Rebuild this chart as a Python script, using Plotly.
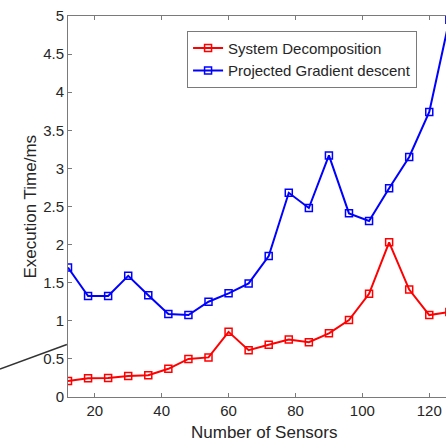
import plotly.graph_objects as go

sensors = [12, 18, 24, 30, 36, 42, 48, 54, 60, 66, 72, 78, 84, 90, 96, 102, 108, 114, 120, 126]
sys_decomp = [0.21, 0.245, 0.25, 0.275, 0.285, 0.37, 0.50, 0.52, 0.855, 0.615, 0.685, 0.755,
              0.72, 0.835, 1.01, 1.355, 2.03, 1.41, 1.075, 1.115]
proj_grad = [1.70, 1.325, 1.325, 1.59, 1.335, 1.09, 1.075, 1.25, 1.36, 1.49, 1.85, 2.68,
             2.48, 3.17, 2.41, 2.31, 2.74, 3.15, 3.74, 4.95]
x_ticks = [20, 40, 60, 80, 100, 120]
y_ticks = [0, 0.5, 1, 1.5, 2, 2.5, 3, 3.5, 4, 4.5, 5]
y_tick_text = ["0", "0.5", "1", "1.5", "2", "2.5", "3", "3.5", "4", "4.5", "5"]

FONT = "Liberation Sans, Arial, Helvetica, sans-serif"

fig = go.Figure()
fig.add_trace(go.Scatter(
    x=sensors, y=sys_decomp, mode="lines+markers", name="System Decomposition",
    line=dict(color="#ff0000", width=2),
    marker=dict(symbol="square-open", size=7, color="#ff0000", line=dict(width=1.5, color="#ff0000")),
))
fig.add_trace(go.Scatter(
    x=sensors, y=proj_grad, mode="lines+markers", name="Projected Gradient descent",
    line=dict(color="#0000ff", width=2),
    marker=dict(symbol="square-open", size=7, color="#0000ff", line=dict(width=1.5, color="#0000ff")),
))

axis_common = dict(
    showgrid=False, zeroline=False, showline=True, linecolor="#7a7a7a", linewidth=1,
    ticks="inside", ticklen=4, tickcolor="#7a7a7a",
    tickfont=dict(family=FONT, size=15, color="#262626"),
)

fig.update_xaxes(range=[12, 125], tickvals=x_ticks, mirror="ticks", **axis_common)
fig.update_yaxes(range=[0, 5], tickvals=y_ticks, ticktext=y_tick_text, mirror=False, **axis_common)

fig.update_layout(
    width=446, height=441,
    margin=dict(l=68, r=0, t=16, b=44),
    paper_bgcolor="white", plot_bgcolor="white",
    font=dict(family=FONT, color="#262626"),
    showlegend=True,
    legend=dict(
        x=0.315, y=0.961, xanchor="left", yanchor="top",
        bgcolor="white", bordercolor="#7a7a7a", borderwidth=1,
        font=dict(family=FONT, size=15, color="#262626"),
        tracegroupgap=0, itemwidth=30,
    ),
    annotations=[
        dict(text="Number of Sensors", xref="paper", yref="paper", x=0.518, y=0,
             yshift=-35, xanchor="center", yanchor="middle", showarrow=False,
             font=dict(family=FONT, size=17, color="#262626")),
        dict(text="Execution Time/ms", xref="paper", yref="paper", x=0, y=0.5,
             xshift=-38, xanchor="center", yanchor="middle", textangle=-90, showarrow=False,
             font=dict(family=FONT, size=17, color="#262626")),
    ],
    shapes=[
        dict(type="line", xref="paper", yref="paper", x0=-0.18, y0=0.0735, x1=-0.003, y1=0.138,
             line=dict(color="#333333", width=1.5)),
    ],
)

fig.write_html(
    "out.html",
    config={"displayModeBar": False},
    post_script="document.body.style.margin='0';document.body.style.padding='0';"
                "document.body.style.overflow='hidden';",
)
